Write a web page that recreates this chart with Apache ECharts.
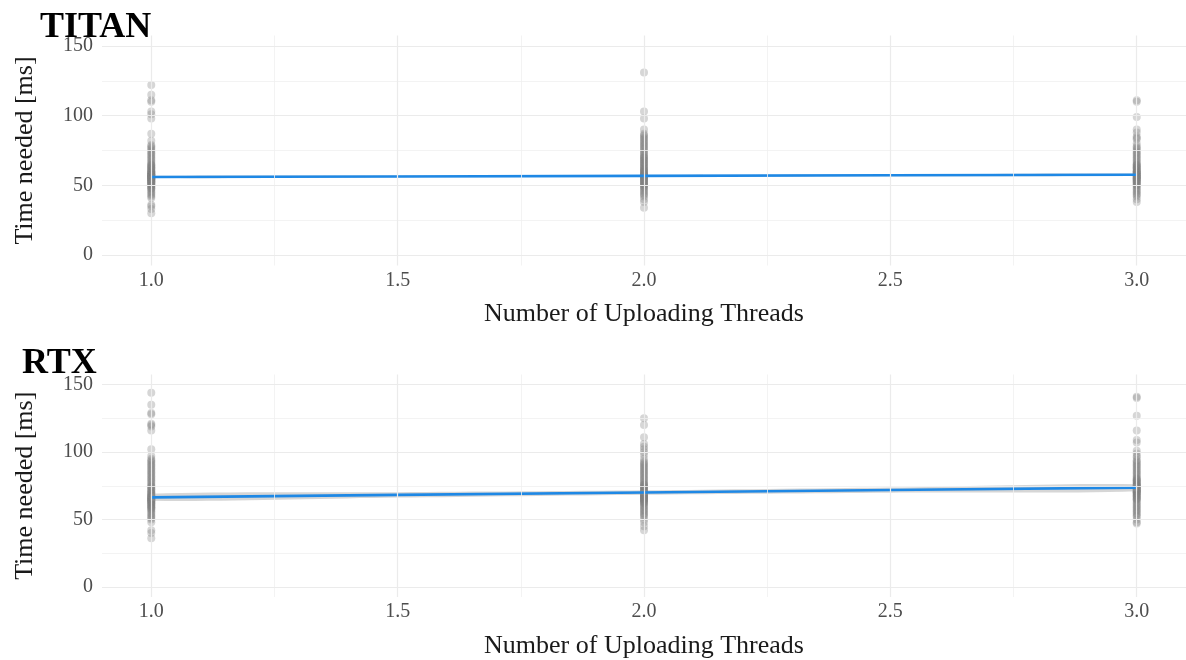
<!DOCTYPE html>
<html>
<head>
<meta charset="utf-8">
<script src="https://cdn.jsdelivr.net/npm/echarts@6/dist/echarts.min.js"></script>
<style>html,body{margin:0;padding:0;background:#fff}#c{width:1186px;height:660px}</style>
</head>
<body>
<div id="c"></div>
<script>
// ---- data ----
const panelTitles = ['TITAN', 'RTX'];
const threads = [1, 2, 3];
const titan1 = [122, 115, 111, 110, 103, 101, 98, 87, 82, 79, 78, 77, 76, 75, 74, 73, 72, 71, 70, 69, 68, 67, 66, 65, 65, 64, 64, 63, 63, 62, 62, 61, 61, 60, 60, 60, 59, 59, 59, 58, 58, 58, 58, 57, 57, 57, 57, 56, 56, 56, 56, 56, 55, 55, 55, 55, 54, 54, 54, 54, 53, 53, 53, 52, 52, 52, 51, 51, 51, 50, 50, 49, 49, 48, 48, 47, 46, 45, 44, 43, 42, 41, 36, 35, 33, 30];
const titan2 = [131, 103, 98, 90, 87, 86, 85, 84, 83, 82, 81, 80, 79, 78, 77, 76, 75, 74, 73, 72, 71, 70, 70, 69, 68, 68, 67, 66, 66, 65, 64, 64, 63, 62, 62, 61, 61, 60, 60, 59, 59, 58, 58, 58, 57, 57, 57, 56, 56, 56, 55, 55, 55, 54, 54, 53, 53, 52, 52, 51, 51, 50, 50, 49, 49, 48, 47, 46, 45, 44, 43, 42, 40, 38, 34];
const titan3 = [111, 110, 99, 90, 88, 85, 84, 83, 80, 78, 77, 76, 75, 74, 73, 72, 71, 70, 69, 68, 67, 66, 65, 65, 64, 64, 63, 63, 62, 62, 61, 61, 60, 60, 60, 59, 59, 59, 58, 58, 58, 57, 57, 57, 56, 56, 56, 56, 55, 55, 55, 54, 54, 54, 53, 53, 52, 52, 51, 51, 50, 50, 49, 48, 47, 46, 45, 44, 43, 42, 40, 38];
const rtx1 = [144, 135, 129, 128, 121, 120, 119, 116, 102, 97, 95, 94, 93, 92, 91, 90, 89, 88, 87, 86, 85, 84, 83, 82, 81, 80, 79, 78, 77, 76, 75, 74, 74, 73, 72, 72, 71, 70, 70, 69, 69, 68, 68, 67, 67, 67, 66, 66, 66, 65, 65, 65, 64, 64, 64, 63, 63, 63, 62, 62, 61, 61, 60, 60, 59, 59, 58, 58, 57, 56, 55, 54, 53, 52, 51, 50, 48, 42, 40, 36];
const rtx2 = [125, 120, 111, 106, 104, 102, 100, 98, 95, 93, 92, 91, 90, 89, 88, 87, 86, 85, 84, 83, 82, 81, 80, 79, 78, 77, 76, 76, 75, 75, 74, 74, 73, 73, 72, 72, 71, 71, 70, 70, 70, 69, 69, 69, 68, 68, 68, 67, 67, 67, 66, 66, 66, 65, 65, 65, 64, 64, 63, 63, 62, 62, 61, 60, 59, 58, 57, 56, 55, 54, 53, 52, 50, 48, 45, 42];
const rtx3 = [141, 140, 127, 116, 109, 107, 101, 99, 97, 96, 94, 93, 92, 91, 90, 89, 88, 87, 86, 85, 84, 83, 82, 81, 80, 80, 79, 79, 78, 78, 77, 77, 76, 76, 75, 75, 75, 74, 74, 74, 73, 73, 73, 72, 72, 72, 71, 71, 71, 70, 70, 70, 69, 69, 68, 68, 67, 67, 66, 66, 65, 65, 64, 63, 62, 61, 60, 59, 58, 57, 56, 55, 54, 53, 52, 50, 48, 47];
// linear fit (lm) with confidence band, evaluated at fitX
const fitX = [1, 1.5, 2, 2.5, 3];
const titanFit = [56.0, 56.4, 56.8, 57.2, 57.6];
const titanLo = [55.2, 55.8, 56.3, 56.6, 56.8];
const titanHi = [56.8, 57.0, 57.3, 57.8, 58.4];
const rtxFit = [66.4, 68.2, 70.0, 71.8, 73.6];
const rtxLo = [63.8, 66.2, 68.4, 69.9, 71.0];
const rtxHi = [69.0, 70.2, 71.6, 73.7, 76.2];
// ticks
const xTicks = [1.0, 1.5, 2.0, 2.5, 3.0];
const xMinor = [1.25, 1.75, 2.25, 2.75];
const yTicks = [0, 50, 100, 150];
const yMinor = [25, 75, 125];
const xLabel = 'Number of Uploading Threads';
const yLabel = 'Time needed [ms]';

// ---- chart ----
const chart = echarts.init(document.getElementById('c'), null, {renderer: 'canvas'});
const serif = 'Liberation Serif';
const panels = [
  {title: panelTitles[0], groups: [titan1, titan2, titan3], fit: titanFit, lo: titanLo, hi: titanHi, top: 35.5, titleX: 40, titleY: 30},
  {title: panelTitles[1], groups: [rtx1, rtx2, rtx3], fit: rtxFit, lo: rtxLo, hi: rtxHi, top: 374.5, titleX: 22, titleY: 366}
];
const grids = [], xAxes = [], yAxes = [], series = [], graphics = [];
panels.forEach((p, i) => {
  grids.push({left: 102, right: 0, top: p.top, height: 230});
  xAxes.push({
    type: 'value', gridIndex: i, min: 0.9, max: 3.1,
    name: xLabel, nameLocation: 'middle', nameGap: 36,
    nameTextStyle: {fontFamily: serif, fontSize: 26, color: '#1a1a1a'},
    axisLine: {show: false}, axisTick: {show: false}, splitLine: {show: false},
    axisLabel: {customValues: xTicks, formatter: v => v.toFixed(1), fontFamily: serif, fontSize: 20, color: '#4d4d4d', margin: 5}
  });
  yAxes.push({
    type: 'value', gridIndex: i, min: -7.5, max: 157.5,
    name: yLabel, nameLocation: 'middle', nameGap: 64, nameRotate: 90,
    nameTextStyle: {fontFamily: serif, fontSize: 26, color: '#1a1a1a'},
    axisLine: {show: false}, axisTick: {show: false}, splitLine: {show: false},
    axisLabel: {customValues: yTicks, fontFamily: serif, fontSize: 20, color: '#4d4d4d', margin: 9}
  });
  const gl = (w, c) => ({color: c, width: w, type: 'solid'});
  // gridlines
  series.push({
    type: 'line', xAxisIndex: i, yAxisIndex: i, data: [], silent: true, z: 0,
    markLine: {
      silent: true, symbol: 'none', label: {show: false}, animation: false,
      data: [
        ...yMinor.map(v => ({yAxis: v, lineStyle: gl(0.8, '#f0f0f0')})),
        ...xMinor.map(v => ({xAxis: v, lineStyle: gl(0.8, '#f0f0f0')})),
        ...yTicks.map(v => ({yAxis: v, lineStyle: gl(1.2, '#ebebeb')})),
        ...xTicks.map(v => ({xAxis: v, lineStyle: gl(1.2, '#ebebeb')}))
      ]
    }
  });
  // points
  const pts = [];
  p.groups.forEach((g, k) => g.forEach(v => pts.push([threads[k], v])));
  series.push({
    type: 'scatter', xAxisIndex: i, yAxisIndex: i, data: pts, symbolSize: 8, z: 2,
    itemStyle: {color: 'rgba(128,128,128,0.4)'}, silent: true, animation: false
  });
  // confidence band
  series.push({
    type: 'custom', xAxisIndex: i, yAxisIndex: i, data: [[fitX[0], p.fit[0]]], z: 3, silent: true, animation: false,
    renderItem: (params, api) => {
      const poly = [];
      fitX.forEach((x, k) => poly.push(api.coord([x, p.hi[k]])));
      for (let k = fitX.length - 1; k >= 0; k--) poly.push(api.coord([fitX[k], p.lo[k]]));
      return {type: 'polygon', shape: {points: poly, smooth: 0.3}, style: {fill: 'rgba(153,153,153,0.4)'}};
    }
  });
  // fit line
  series.push({
    type: 'line', xAxisIndex: i, yAxisIndex: i, data: fitX.map((x, k) => [x, p.fit[k]]),
    showSymbol: false, lineStyle: {color: '#1E88E5', width: 2.6}, z: 4, silent: true, animation: false
  });
  graphics.push({type: 'text', left: p.titleX, top: p.titleY - 20, style: {text: p.title, font: 'bold 36px "Liberation Serif"', fill: '#000'}});
});
chart.setOption({
  animation: false,
  grid: grids, xAxis: xAxes, yAxis: yAxes, series: series, graphic: graphics
});
</script>
</body>
</html>
